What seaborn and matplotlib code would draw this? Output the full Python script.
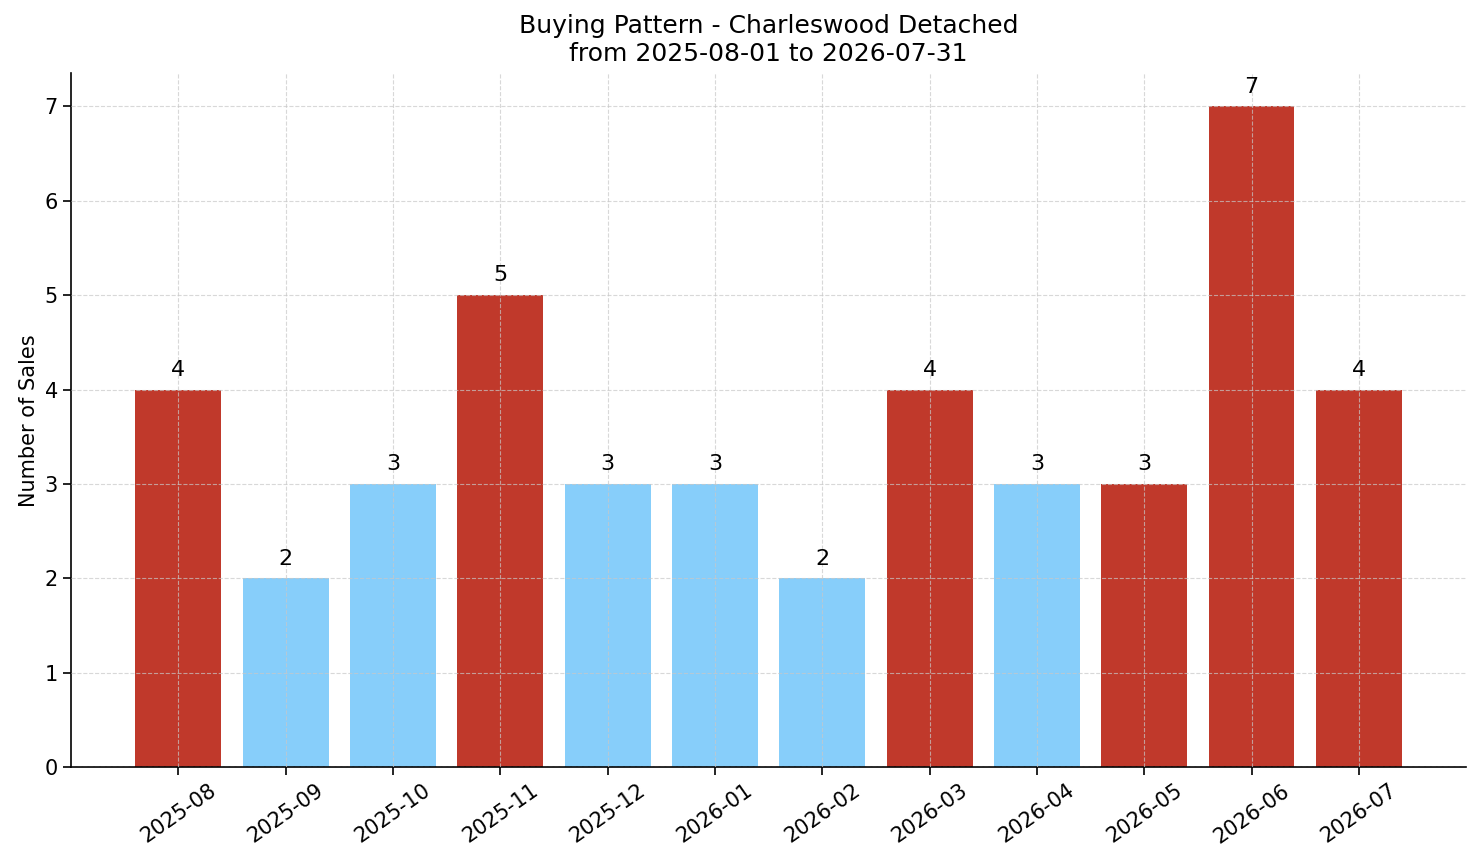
"""
Buying pattern bar chart - monthly sales count
"""

import pandas as pd
import matplotlib
matplotlib.use("Agg")
import matplotlib.pyplot as plt
import seaborn as sns

# Data
months = ['2025-08', '2025-09', '2025-10', '2025-11', '2025-12', '2026-01',
          '2026-02', '2026-03', '2026-04', '2026-05', '2026-06', '2026-07']
sales = [4, 2, 3, 5, 3, 3, 2, 4, 3, 3, 7, 4]
highlight = [True, False, False, True, False, False,
             False, True, False, True, True, True]

RED = '#c0392b'
BLUE = '#87cefa'

df = pd.DataFrame({'month': months, 'sales': sales})
palette = {m: (RED if h else BLUE) for m, h in zip(months, highlight)}

sns.set_style('ticks')
plt.rcParams['font.family'] = ['DejaVu Sans']
plt.rcParams['text.color'] = 'black'
plt.rcParams['axes.labelcolor'] = 'black'
plt.rcParams['xtick.color'] = 'black'
plt.rcParams['ytick.color'] = 'black'
plt.rcParams['axes.edgecolor'] = 'black'

fig, ax = plt.subplots(figsize=(14.81, 8.63), dpi=100)
sns.barplot(data=df, x='month', y='sales', hue='month', palette=palette,
            legend=False, width=0.8, saturation=1, linewidth=0, ax=ax)

for container in ax.containers:
    ax.bar_label(container, fmt='%d', padding=7, fontsize=16)

ax.set_xlim(-1, len(months))
ax.set_ylim(0, max(sales) * 1.05)
# grid sits on top of the bars, faint
ax.grid(True, linestyle='--', color='#c8c8c8', linewidth=0.8, alpha=0.7)
ax.set_axisbelow(False)
sns.despine(ax=ax)
for side in ['left', 'bottom']:
    ax.spines[side].set_linewidth(1.2)

ax.set_title('Buying Pattern - Charleswood Detached\nfrom 2025-08-01 to 2026-07-31',
             fontsize=18, pad=9)
ax.set_xlabel('')
ax.set_ylabel('Number of Sales', fontsize=15)
ax.tick_params(axis='both', labelsize=15, length=6, width=1.2)
plt.setp(ax.get_xticklabels(), rotation=35)

fig.subplots_adjust(left=0.048, right=0.99, top=0.915, bottom=0.111)
plt.savefig('out.png')
